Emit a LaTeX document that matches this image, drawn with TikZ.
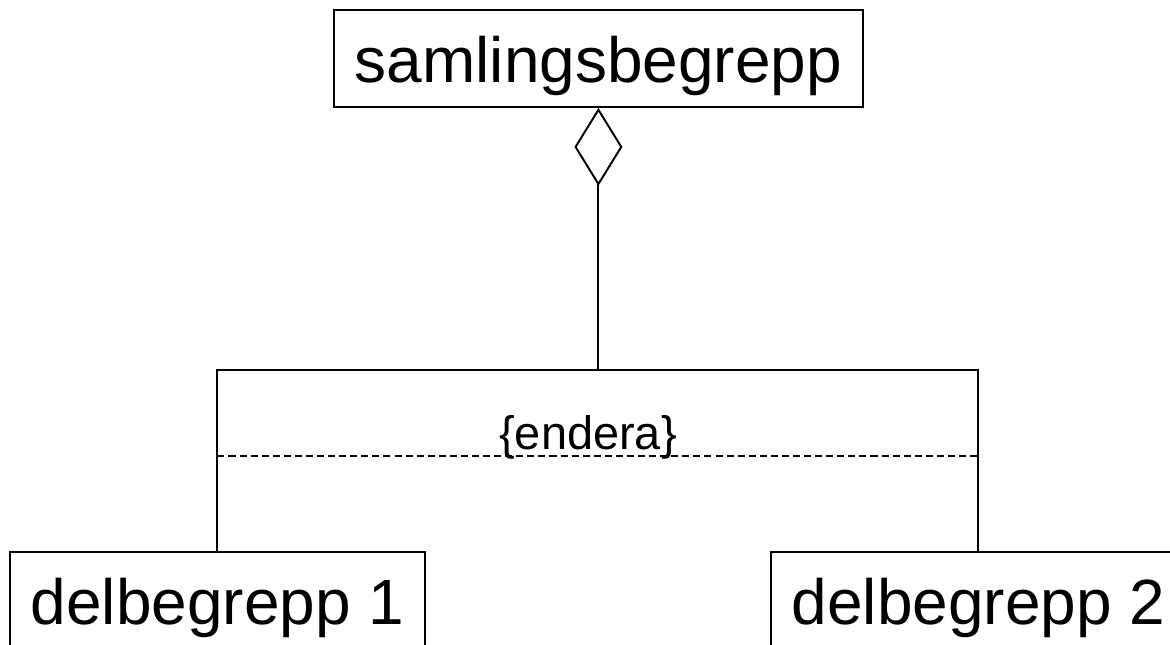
\documentclass[tikz,border=0pt]{standalone}
\usepackage{fontspec}
\setmainfont{Liberation Sans}
\usetikzlibrary{arrows.meta,positioning}

\begin{document}
\begin{tikzpicture}[x=0.02cm, y=-0.02cm,
		concept/.style={draw, line width=1.1pt, inner sep=0pt, minimum height=1.94cm, text height=0.98cm, text depth=0pt, font=\fontsize{36.4pt}{40pt}\selectfont},
		link/.style={line width=1.1pt}]
			%%%%% START %%%%%
			
			\useasboundingbox (0, 0) rectangle (1170, 645);
			\clip (0, 0) rectangle (1170, 645);
			
			\node[concept, minimum width=10.58cm, anchor=north west] (samling) at (333, 9) {samlingsbegrepp};
			\node[concept, minimum width=8.3cm, anchor=north west] (del1) at (9, 551) {delbegrepp 1};
			\node[concept, minimum width=8.3cm, anchor=north west] (del2) at (770, 551) {delbegrepp 2};
			
			\coordinate (junction) at (samling.south |- 0, 370);
			\draw[link, {Diamond[open, length=1.56cm, width=0.96cm]}-] (samling.south) -- (junction);
			\draw[link] (del1.north) |- (junction) -| (del2.north);
			
			\draw[link, dash pattern=on 4pt off 2.3pt] (del1.north |- 0, 456) -- (del2.north |- 0, 456);
			\node[anchor=base, inner sep=0pt, font=\fontsize{26.7pt}{30pt}\selectfont] (endera) at (588, 449) {\{endera\}};
			
			%%%%% END %%%%%
		\end{tikzpicture}
\end{document}
